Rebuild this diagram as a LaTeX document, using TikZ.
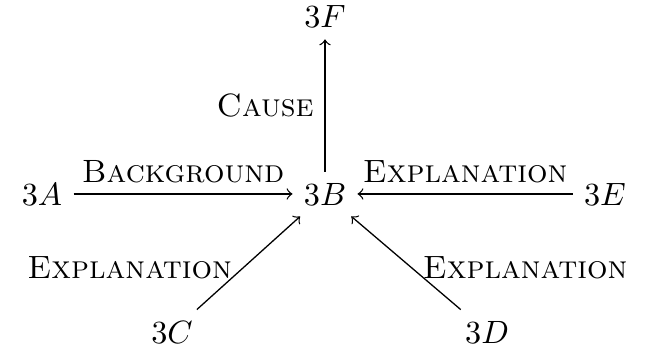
\documentclass[tikz,border=0pt]{standalone}
\begin{document}
\begin{tikzpicture}[x=0.3101pt,y=-0.3101pt,
  obj/.style={anchor=base},
  arr/.style={->}]
\useasboundingbox (0,0) rectangle (645,350);
% objects
\node[obj] (A) at (42,205) {$3A$};
\node[obj] (B) at (325,205) {$3B$};
\node[obj] (E) at (605,205) {$3E$};
\node[obj] (F) at (325,28) {$3F$};
\node[obj] (C) at (172,343) {$3C$};
\node[obj] (D) at (487,343) {$3D$};
% relations
\draw[arr] (A) -- node[above] (lbg) {\textsc{Background}} (B);
\draw[arr] (E) -- node[above] (lexe) {\textsc{Explanation}} (B);
\draw[arr] (B) -- node[left] (lcause) {\textsc{Cause}} (F);
\draw[arr] (C) -- node[left,pos=0.45] (lexc) {\textsc{Explanation}} (B);
\draw[arr] (D) -- node[right,pos=0.45] (lexd) {\textsc{Explanation}} (B);
\end{tikzpicture}
\end{document}
